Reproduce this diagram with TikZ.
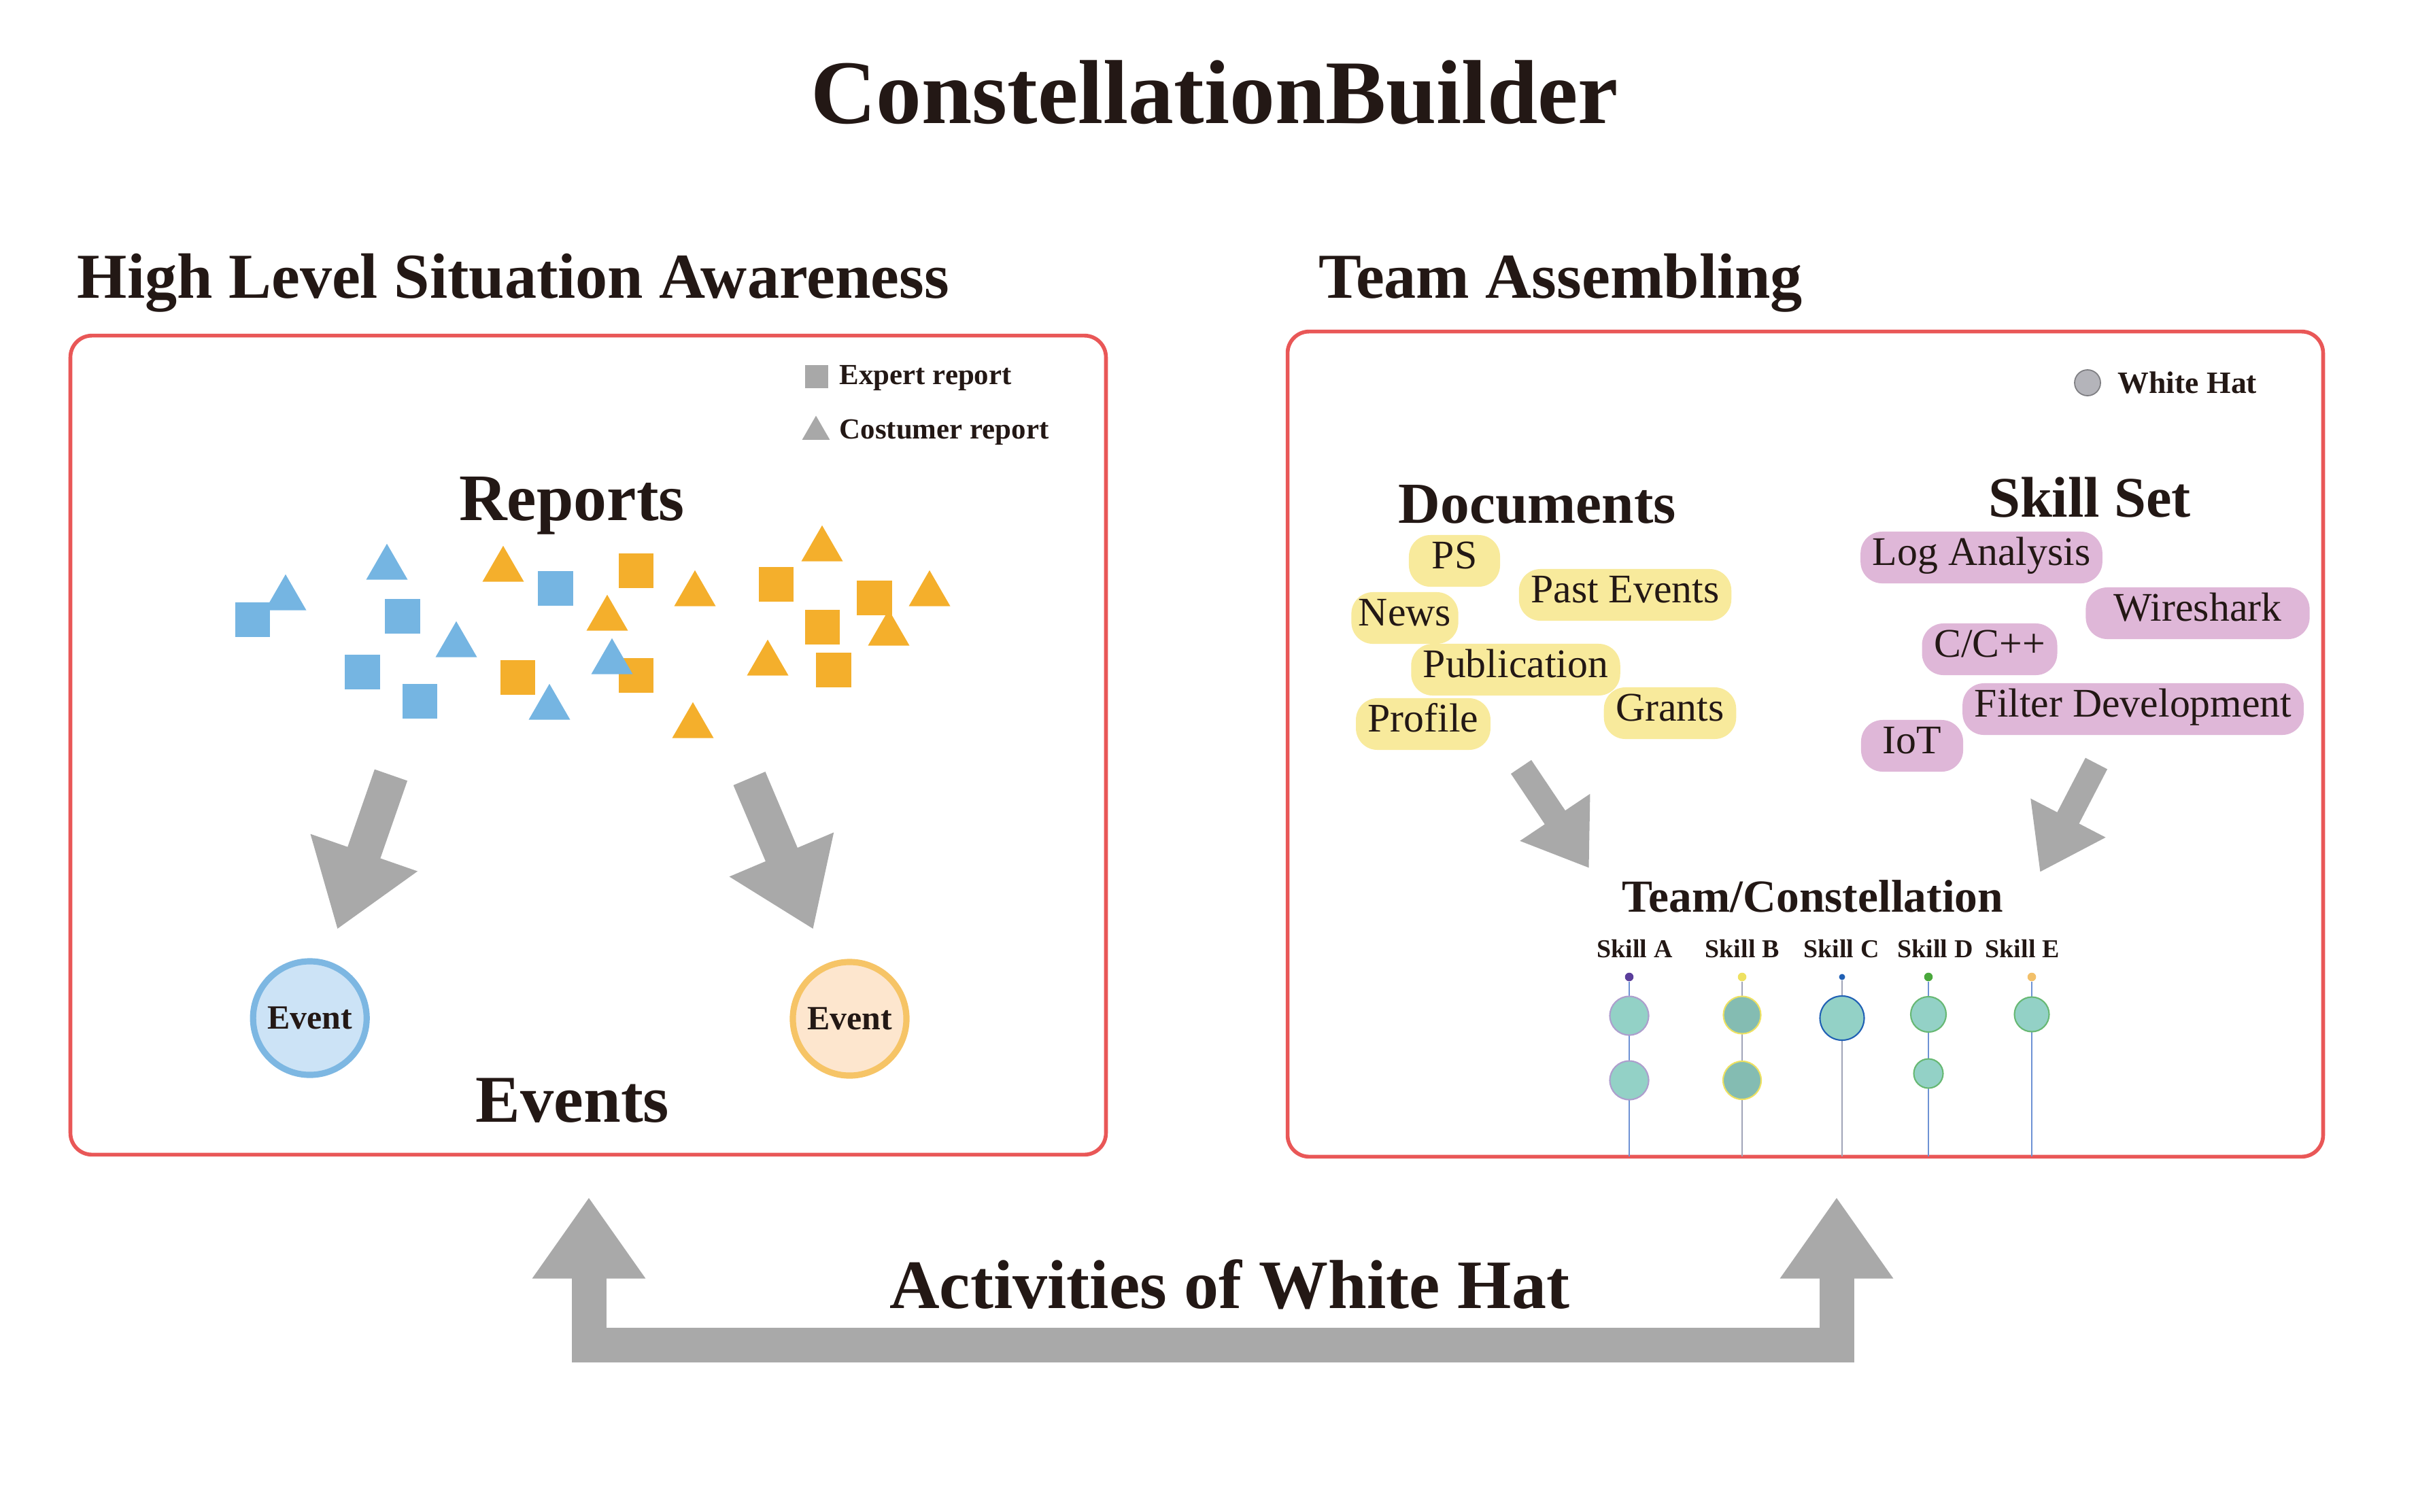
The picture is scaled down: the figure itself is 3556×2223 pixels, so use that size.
\documentclass[tikz,border=0pt]{standalone}
\usepackage{fontspec}
\setmainfont{Liberation Serif}
\usetikzlibrary{arrows.meta,shapes.geometric,positioning}

\definecolor{ink}{HTML}{231815}
\definecolor{boxred}{HTML}{E95757}
\definecolor{arrowgray}{HTML}{A9A9A9}
\definecolor{keygray}{HTML}{A8A8A8}
\definecolor{repblue}{HTML}{75B5E2}
\definecolor{reporange}{HTML}{F4AF2C}
\definecolor{evblue}{HTML}{CCE3F6}
\definecolor{evblueline}{HTML}{7DB7E2}
\definecolor{evorange}{HTML}{FDE6CE}
\definecolor{evorangeline}{HTML}{F6C466}
\definecolor{docyellow}{HTML}{F8EA9C}
\definecolor{skillpink}{HTML}{DFB7D8}
\definecolor{whitehat}{HTML}{B4B4BA}
\definecolor{membteal}{HTML}{93D1C6}
\definecolor{skA}{HTML}{5B3E9B}
\definecolor{skB}{HTML}{EEE161}
\definecolor{skC}{HTML}{2060B4}
\definecolor{skD}{HTML}{4AA83C}
\definecolor{skE}{HTML}{F2C06A}
\definecolor{stemblue}{HTML}{6E92D4}
\definecolor{stemgray}{HTML}{A0A4B8}

\begin{document}
\begin{tikzpicture}[x=0.01cm, y=-0.01cm]
  \tikzset{
    heading/.style={
      anchor=base west,
      inner sep=0pt,
      text=ink,
      font=\bfseries\fontsize{26.8}{30}\selectfont
    },
    subtitle/.style={
      anchor=base,
      inner sep=0pt,
      text=ink,
      font=\bfseries\fontsize{28}{32}\selectfont
    },
    panel/.style={
      draw=boxred,
      line width=1.6pt,
      rounded corners=9pt,
      inner sep=0pt,
      minimum width=15.22cm
    },
    keytext/.style={
      anchor=base west,
      inner sep=0pt,
      text=ink,
      font=\bfseries\fontsize{12.2}{14}\selectfont
    },
    rsquare/.style={
      rectangle,
      minimum size=0.51cm,
      inner sep=0pt
    },
    rtri/.style={
      regular polygon,
      regular polygon sides=3,
      minimum size=0.704cm,
      inner sep=0pt
    },
    event/.style={
      circle,
      line width=2.6pt,
      minimum size=1.67cm,
      inner sep=0pt,
      text=ink,
      font=\bfseries\fontsize{14.2}{16}\selectfont
    },
    docpill/.style={
      fill=docyellow,
      rounded corners=9pt,
      minimum height=0.76cm,
      inner xsep=5pt,
      inner ysep=0pt,
      text height=0.64em,
      text depth=0pt,
      text=ink,
      font=\fontsize{17}{19}\selectfont
    },
    skillpill/.style={
      docpill,
      fill=skillpink
    },
    bigarrow/.style={
      draw=arrowgray,
      line width=14.5pt,
      >={Triangle[width=45pt,length=34pt]},
      ->
    },
    smallarrow/.style={
      draw=arrowgray,
      line width=10.3pt,
      >={Triangle[width=33.5pt,length=25.6pt]},
      ->
    },
    skillname/.style={
      anchor=base,
      inner sep=0pt,
      text=ink,
      font=\bfseries\fontsize{10.8}{12}\selectfont
    },
    skilldot/.style={
      circle,
      inner sep=0pt,
      minimum size=0.126cm
    },
    member/.style={
      circle,
      inner sep=0pt,
      fill=membteal,
      line width=0.6pt
    },
    stem/.style={
      line width=0.45pt
    }
  }

  \useasboundingbox (0,0) rectangle (3556,2223);

  \node[anchor=base, inner sep=0pt, text=ink, font=\bfseries\fontsize{38}{44}\selectfont] (title) at (1786,181) {ConstellationBuilder};
  \node[heading] (hlsa-head) at (113,438) {High Level Situation Awareness};
  \node[heading] (team-head) at (1939,438) {Team Assembling};

  \node[panel, minimum height=12.04cm] (hlsa) at (865,1096) {};
  \node[panel, minimum height=12.13cm] (team) at (2655,1094.5) {};

  \node[rsquare, fill=keygray, minimum size=0.34cm] (key-expert) at (1201,554) {};
  \node[keytext] (key-expert-text) at (1234,565) {Expert report};
  \node[rtri, fill=keygray, minimum size=0.47cm] (key-costumer) at (1200,635) {};
  \node[keytext] (key-costumer-text) at (1234,645) {Costumer report};

  \node[subtitle, font=\bfseries\fontsize{27.8}{32}\selectfont] (reports) at (841,765) {Reports};

  \node[rtri, fill=reporange] (ot1) at (740,838) {};
  \node[rtri, fill=reporange] (ot2) at (1209,808) {};
  \node[rtri, fill=reporange] (ot3) at (1022,874) {};
  \node[rtri, fill=reporange] (ot4) at (1367,874) {};
  \node[rtri, fill=reporange] (ot5) at (893,910) {};
  \node[rtri, fill=reporange] (ot6) at (1307,932) {};
  \node[rtri, fill=reporange] (ot7) at (1129,976) {};
  \node[rtri, fill=reporange] (ot8) at (1019,1068) {};
  \node[rsquare, fill=reporange] (os1) at (935.5,839.5) {};
  \node[rsquare, fill=reporange] (os2) at (1141.5,859) {};
  \node[rsquare, fill=reporange] (os3) at (1286,879.5) {};
  \node[rsquare, fill=reporange] (os4) at (1209.4,922.8) {};
  \node[rsquare, fill=reporange] (os5) at (761.6,996) {};
  \node[rsquare, fill=reporange] (os6) at (935.5,993) {};
  \node[rsquare, fill=reporange] (os7) at (1226,985.3) {};
  \node[rsquare, fill=repblue] (bs1) at (371.5,911.5) {};
  \node[rsquare, fill=repblue] (bs2) at (592,906) {};
  \node[rsquare, fill=repblue] (bs3) at (817,865) {};
  \node[rsquare, fill=repblue] (bs4) at (533,988) {};
  \node[rsquare, fill=repblue] (bs5) at (617.5,1031.5) {};
  \node[rtri, fill=repblue] (bt1) at (420,880) {};
  \node[rtri, fill=repblue] (bt2) at (569,835) {};
  \node[rtri, fill=repblue] (bt3) at (671,949) {};
  \node[rtri, fill=repblue] (bt4) at (900,974) {};
  \node[rtri, fill=repblue] (bt5) at (808,1041) {};

  \coordinate (repL-tail) at (575,1140);
  \coordinate (repL-tip) at (496,1367);
  \coordinate (repR-tail) at (1102,1145);
  \coordinate (repR-tip) at (1196,1367);
  \draw[bigarrow] (repL-tail) -- (repL-tip);
  \draw[bigarrow] (repR-tail) -- (repR-tip);

  \node[event, fill=evblue, draw=evblueline] (ev-blue) at (455.7,1497.5) {Event};
  \node[event, fill=evorange, draw=evorangeline] (ev-orange) at (1249.5,1498.5) {Event};
  \node[subtitle] (events) at (842,1650) {Events};

  \node[circle, fill=whitehat, draw=whitehat!70!black, line width=0.5pt, minimum size=0.38cm, inner sep=0pt] (key-whitehat) at (3070,563) {};
  \node[keytext, font=\bfseries\fontsize{13}{15}\selectfont] (key-whitehat-text) at (3114,578) {White Hat};

  \node[subtitle, font=\bfseries\fontsize{24.3}{28}\selectfont] (documents) at (2261,769) {Documents};
  \node[subtitle, font=\bfseries\fontsize{24}{28}\selectfont] (skillset) at (3073,760) {Skill Set};

  \node[docpill, minimum width=1.34cm] (ps) at (2139,825) {PS};
  \node[docpill] (pastevents) at (2390,875) {Past Events};
  \node[docpill, inner xsep=3pt] (news) at (2066,909) {News};
  \node[docpill] (publication) at (2229,985) {Publication};
  \node[docpill] (grants) at (2456,1049) {Grants};
  \node[docpill] (profile) at (2093,1065) {Profile};

  \node[skillpill] (loganalysis) at (2914,820) {Log Analysis};
  \node[skillpill, minimum width=3.29cm] (wireshark) at (3232,902) {Wireshark};
  \node[skillpill] (cpp) at (2926,955) {C/C++};
  \node[skillpill] (filterdev) at (3137,1043) {Filter Development};
  \node[skillpill, minimum width=1.5cm] (iot) at (2812,1097) {IoT};

  \coordinate (doc-tail) at (2237,1128);
  \coordinate (doc-tip) at (2337,1277);
  \coordinate (skill-tail) at (3083,1123);
  \coordinate (skill-tip) at (3000,1283);
  \draw[smallarrow] (doc-tail) -- (doc-tip);
  \draw[smallarrow] (skill-tail) -- (skill-tip);

  \node[subtitle, font=\bfseries\fontsize{19.2}{22}\selectfont] (constellation) at (2666,1341) {Team/Constellation};

  \node[skillname] (skA-name) at (2404,1408) {Skill A};
  \node[skillname] (skB-name) at (2562,1408) {Skill B};
  \node[skillname] (skC-name) at (2708,1408) {Skill C};
  \node[skillname] (skD-name) at (2846,1408) {Skill D};
  \node[skillname] (skE-name) at (2974,1408) {Skill E};

  \node[skilldot, fill=skA] (skA-dot) at (2396,1437) {};
  \node[skilldot, fill=skB] (skB-dot) at (2562,1437) {};
  \node[skilldot, fill=skC, minimum size=0.09cm] (skC-dot) at (2709,1437) {};
  \node[skilldot, fill=skD] (skD-dot) at (2836,1437) {};
  \node[skilldot, fill=skE] (skE-dot) at (2988,1437) {};

  \coordinate (skA-end) at (2396,1701);
  \coordinate (skB-end) at (2562,1701);
  \coordinate (skC-end) at (2709,1701);
  \coordinate (skD-end) at (2836,1701);
  \coordinate (skE-end) at (2988,1701);
  \draw[stem, draw=stemblue] (skA-dot) -- (skA-end);
  \draw[stem, draw=stemgray] (skB-dot) -- (skB-end);
  \draw[stem, draw=stemgray] (skC-dot) -- (skC-end);
  \draw[stem, draw=stemblue] (skD-dot) -- (skD-end);
  \draw[stem, draw=stemblue] (skE-dot) -- (skE-end);

  \node[member, draw=skA!50!white, minimum size=0.57cm] (skA-m1) at (2396,1494) {};
  \node[member, draw=skA!50!white, minimum size=0.57cm] (skA-m2) at (2396,1589) {};
  \node[member, draw=skB, fill=membteal!90!black, minimum size=0.55cm] (skB-m1) at (2562,1493) {};
  \node[member, draw=skB, fill=membteal!90!black, minimum size=0.56cm] (skB-m2) at (2562,1589) {};
  \node[member, draw=skC, minimum size=0.65cm] (skC-m1) at (2709,1497.5) {};
  \node[member, draw=skD!60!membteal, minimum size=0.52cm] (skD-m1) at (2836,1492) {};
  \node[member, draw=skD!60!membteal, minimum size=0.43cm] (skD-m2) at (2836,1579) {};
  \node[member, draw=skD!60!membteal, minimum size=0.51cm] (skE-m1) at (2988,1492) {};

  \coordinate (hlsa-in) at (866,1761);
  \coordinate (team-in) at (2701,1761);
  \draw[bigarrow, <->] (hlsa-in) -- ++(0,217) -| (team-in);
  \node[subtitle, font=\bfseries\fontsize{29}{33}\selectfont] (activities) at (1808,1924) {Activities of White Hat};

\end{tikzpicture}
\end{document}
